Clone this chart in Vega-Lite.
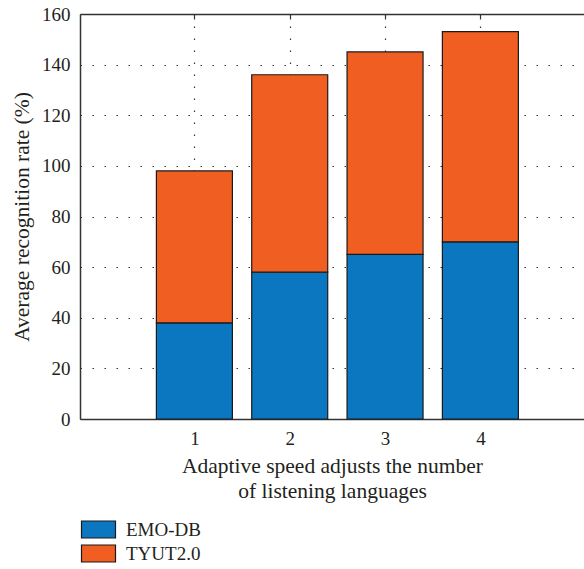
{
  "$schema": "https://vega.github.io/schema/vega-lite/v6.json",
  "width": 504,
  "height": 405,
  "autosize": {"type": "none"},
  "padding": {"left": 80, "top": 14, "right": 0, "bottom": 150},
  "config": {
    "font": "Liberation Serif",
    "view": {"stroke": null},
    "axis": {
      "domainColor": "#333333",
      "domainWidth": 1.5,
      "tickColor": "#333333",
      "tickWidth": 1.2,
      "labelColor": "#231f20",
      "titleColor": "#231f20",
      "labelFont": "Liberation Serif",
      "titleFont": "Liberation Serif",
      "labelFontSize": 19,
      "titleFontSize": 21.5,
      "titleFontWeight": "normal",
      "gridColor": "#333333",
      "gridDash": [1.5, 10.5],
      "gridWidth": 1.2
    }
  },
  "data": {
    "values": [
      {"n": 1, "series": "EMO-DB", "value": 38},
      {"n": 1, "series": "TYUT2.0", "value": 60},
      {"n": 2, "series": "EMO-DB", "value": 58},
      {"n": 2, "series": "TYUT2.0", "value": 78},
      {"n": 3, "series": "EMO-DB", "value": 65},
      {"n": 3, "series": "TYUT2.0", "value": 80},
      {"n": 4, "series": "EMO-DB", "value": 70},
      {"n": 4, "series": "TYUT2.0", "value": 83}
    ]
  },
  "layer": [
    {
      "mark": {"type": "bar", "size": 76, "stroke": "#1a1a1a", "strokeWidth": 1.2},
      "encoding": {
        "x": {
          "field": "n",
          "type": "quantitative",
          "scale": {"domain": [-0.2, 5.087], "nice": false, "zero": false, "padding": 0},
          "axis": {
            "orient": "bottom",
            "values": [1, 2, 3, 4],
            "format": "d",
            "grid": true,
            "tickSize": -5,
            "labelPadding": 15,
            "title": ["Adaptive speed adjusts the number", "of listening languages"],
            "titleLineHeight": 25,
            "titlePadding": 7
          }
        },
        "y": {
          "field": "value",
          "type": "quantitative",
          "stack": "zero",
          "scale": {"domain": [0, 160], "nice": false, "padding": 0},
          "axis": {
            "values": [0, 20, 40, 60, 80, 100, 120, 140, 160],
            "grid": true,
            "ticks": false,
            "labelPadding": 10,
            "title": "Average recognition rate (%)",
            "titlePadding": 8
          }
        },
        "order": {"field": "series", "type": "nominal", "sort": "ascending"},
        "color": {
          "field": "series",
          "type": "nominal",
          "scale": {"domain": ["EMO-DB", "TYUT2.0"], "range": ["#0a77c0", "#f15e22"]},
          "legend": {
            "orient": "none",
            "legendX": 9,
            "legendY": 506,
            "title": null,
            "symbolType": "M-2,-1H2V1H-2Z",
            "symbolSize": 289,
            "symbolStrokeColor": "#1a1a1a",
            "symbolStrokeWidth": 1.2,
            "symbolOpacity": 1,
            "labelFont": "Liberation Serif",
            "labelFontSize": 19,
            "labelColor": "#231f20",
            "labelOffset": 18,
            "rowPadding": 1
          }
        }
      }
    },
    {
      "mark": {"type": "rule", "strokeOpacity": 0},
      "encoding": {
        "x": {
          "field": "n",
          "type": "quantitative",
          "scale": {"domain": [-0.2, 5.087], "nice": false, "zero": false, "padding": 0},
          "axis": {
            "orient": "top",
            "values": [1, 2, 3, 4],
            "labels": false,
            "grid": false,
            "tickSize": -5,
            "title": null
          }
        }
      }
    }
  ],
  "resolve": {"axis": {"x": "independent"}}
}
